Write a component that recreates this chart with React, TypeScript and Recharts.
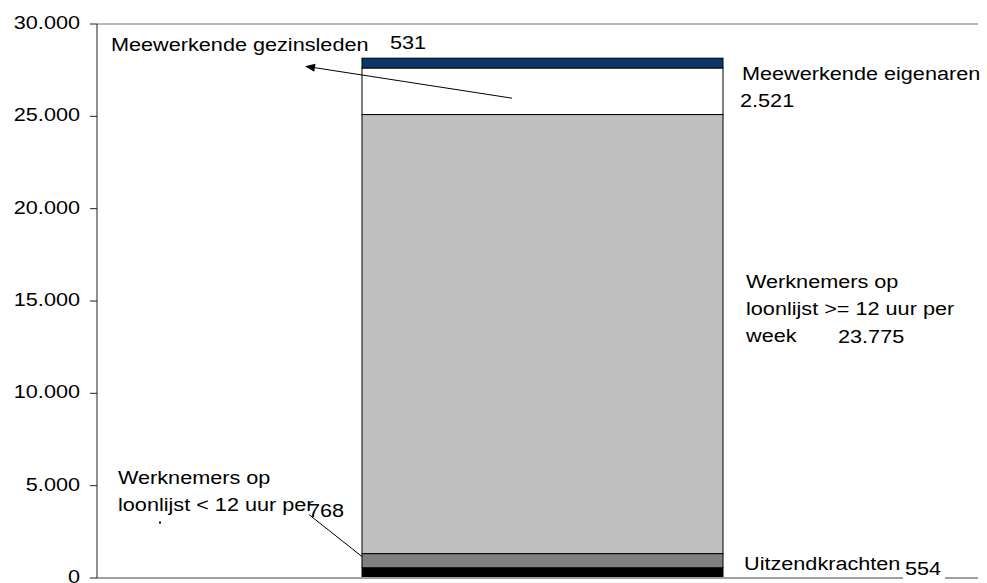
import React from 'react';
import { BarChart, Bar, XAxis, YAxis, ReferenceLine } from 'recharts';

// one stacked column, values in persons
const categories = ['Totaal'];
const uitzendkrachten = [554];
const loonlijstKlein = [768];
const loonlijstGroot = [23775];
const eigenaren = [2521];
const gezinsleden = [531];
const yTicks = [0, 5000, 10000, 15000, 20000, 25000, 30000];

const data = categories.map((name, i) => ({
  name,
  uitzend: uitzendkrachten[i],
  klein: loonlijstKlein[i],
  groot: loonlijstGroot[i],
  eigen: eigenaren[i],
  gezin: gezinsleden[i],
}));

const FONT = '"Liberation Sans", Arial, sans-serif';
const STRETCH = 1.14; // source text is slightly wide

const fmt = (v: number) => String(v).replace(/\B(?=(\d{3})+(?!\d))/g, '.');

const T = ({ x, y, children, anchor = 'start' }: any) => (
  <text
    transform={`translate(${x},${y}) scale(${STRETCH},1)`}
    fontSize={19}
    fontFamily={FONT}
    fill="#000"
    textAnchor={anchor}
  >
    {children}
  </text>
);

const YTick = ({ x, y, payload }: any) => (
  <T x={x} y={y + 5} anchor="end">{fmt(payload.value)}</T>
);

const seg = (props: any, fill: string) => (
  <rect x={props.x} y={props.y} width={props.width} height={props.height} fill={fill} stroke="#000" strokeWidth={1} />
);

const Arrow = ({ x1, y1, x2, y2 }: any) => {
  const dx = x2 - x1;
  const dy = y2 - y1;
  const len = Math.sqrt(dx * dx + dy * dy);
  const ux = dx / len;
  const uy = dy / len;
  const hl = 10;
  const hw = 4;
  const bx = x2 - ux * hl;
  const by = y2 - uy * hl;
  return (
    <g>
      <line x1={x1} y1={y1} x2={bx} y2={by} stroke="#000" strokeWidth={1} />
      <polygon
        points={`${x2},${y2} ${bx - uy * hw},${by + ux * hw} ${bx + uy * hw},${by - ux * hw}`}
        fill="#000"
      />
    </g>
  );
};

const GezinShape = (p: any) => (
  <g>
    {seg(p, '#0B3669')}
    <T x={p.x - 251} y={p.y - 7}>Meewerkende gezinsleden</T>
    <T x={p.x + 28} y={p.y - 9}>{fmt(gezinsleden[0])}</T>
    <Arrow x1={p.x + 150} y1={p.y + 40} x2={p.x - 57} y2={p.y + 8} />
  </g>
);

const EigenShape = (p: any) => {
  const r = p.x + p.width;
  return (
    <g>
      {seg(p, '#FFFFFF')}
      <T x={r + 19} y={p.y + 12}>Meewerkende eigenaren</T>
      <T x={r + 17} y={p.y + 39}>{fmt(eigenaren[0])}</T>
    </g>
  );
};

const GrootShape = (p: any) => {
  const r = p.x + p.width;
  return (
    <g>
      {seg(p, '#C0C0C0')}
      <T x={r + 23} y={p.y + 173}>Werknemers op</T>
      <T x={r + 23} y={p.y + 200}>loonlijst &gt;= 12 uur per</T>
      <T x={r + 23} y={p.y + 227}>week</T>
      <T x={r + 115} y={p.y + 228}>{fmt(loonlijstGroot[0])}</T>
    </g>
  );
};

const KleinShape = (p: any) => (
  <g>
    {seg(p, '#808080')}
    <T x={p.x - 244} y={p.y - 70}>Werknemers op</T>
    <T x={p.x - 244} y={p.y - 43}>loonlijst &lt; 12 uur per</T>
    <rect x={p.x - 203} y={p.y - 32} width={2} height={2} fill="#000" />
    <line x1={p.x - 53} y1={p.y - 39} x2={p.x} y2={p.y + 3} stroke="#000" strokeWidth={1} />
    <T x={p.x - 54} y={p.y - 37}>{fmt(loonlijstKlein[0])}</T>
  </g>
);

const UitzendShape = (p: any) => {
  const r = p.x + p.width;
  return (
    <g>
      {seg(p, '#000000')}
      <T x={r + 21} y={p.y + 2}>Uitzendkrachten</T>
    </g>
  );
};

// "554" sits on a white box that hides part of the base line
const UitzendValue = ({ viewBox }: any) => {
  const x = viewBox.x + viewBox.width - 73;
  const y = viewBox.y;
  return (
    <g>
      <rect x={x - 2} y={y - 20} width={42} height={30} fill="#fff" />
      <T x={x} y={y - 3}>{fmt(uitzendkrachten[0])}</T>
    </g>
  );
};

export default function App() {
  return (
    <div style={{ position: 'absolute', left: 0, top: 0, width: 987, height: 583, background: '#fff' }}>
      <BarChart
        width={987}
        height={583}
        data={data}
        margin={{ top: 24, right: 9, bottom: 5, left: 0 }}
        barSize={361}
      >
        <XAxis dataKey="name" hide padding={{ left: 10, right: 0 }} />
        <YAxis
          width={97}
          domain={[0, 30000]}
          ticks={yTicks}
          interval={0}
          tickSize={7}
          tickMargin={10}
          tick={<YTick />}
          axisLine={{ stroke: '#222' }}
          tickLine={{ stroke: '#222' }}
        />
        <ReferenceLine y={30000} stroke="#A0A0A0" strokeWidth={1.5} />
        <Bar dataKey="uitzend" stackId="a" isAnimationActive={false} shape={UitzendShape} />
        <Bar dataKey="klein" stackId="a" isAnimationActive={false} shape={KleinShape} />
        <Bar dataKey="groot" stackId="a" isAnimationActive={false} shape={GrootShape} />
        <Bar dataKey="eigen" stackId="a" isAnimationActive={false} shape={EigenShape} />
        <Bar dataKey="gezin" stackId="a" isAnimationActive={false} shape={GezinShape} />
        <ReferenceLine y={0} stroke="#A0A0A0" strokeWidth={2} label={<UitzendValue />} />
      </BarChart>
    </div>
  );
}
